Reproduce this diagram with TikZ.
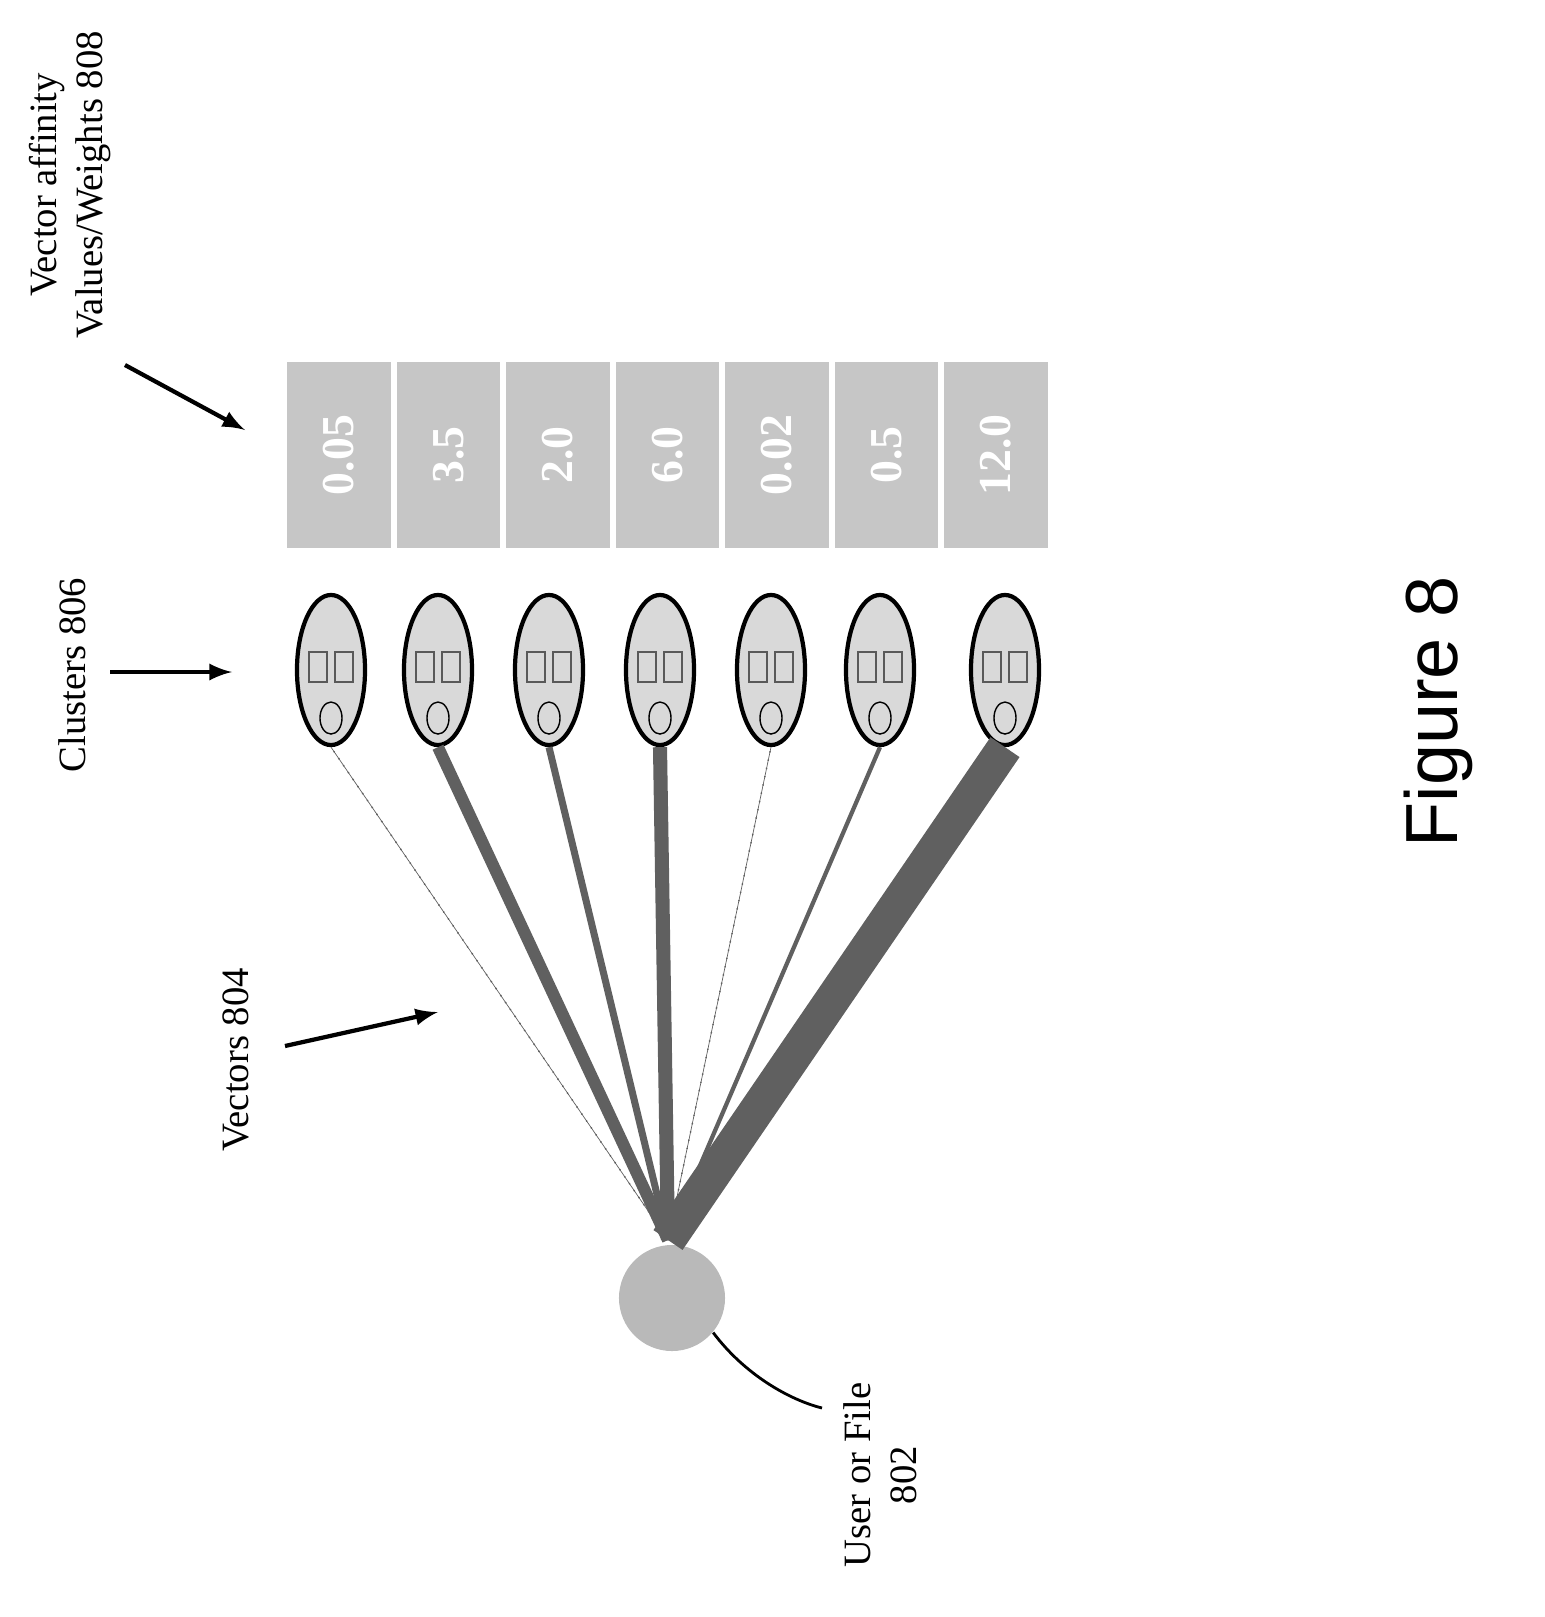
\documentclass[tikz,border=0pt]{standalone}
\usepackage{fontspec}
\setmainfont{Liberation Serif}
\setsansfont{Liberation Sans}
\usetikzlibrary{shapes.geometric}
\begin{document}
\begin{tikzpicture}[x=0.01cm,y=-0.01cm,
  lbl/.style={rotate=90,align=center,font=\fontsize{11}{13}\selectfont},
  valbox/.style={fill=gray!45,minimum width=1.03cm,minimum height=1.86cm,inner sep=0pt},
  cluster/.style={ellipse,draw,line width=1.2pt,fill=gray!30,minimum width=0.68cm,minimum height=1.5cm,inner sep=0pt},
  vec/.style={draw=gray!75!black}]

\useasboundingbox (0,0) rectangle (1544,1617);

% user or file
\node[circle,fill=gray!55,minimum size=1.06cm,inner sep=0pt] (user) at (672,1298) {};
\coordinate (hub) at (668,1240);

% clusters and values
\foreach \i/\x/\v/\w in {1/331/0.05/0.2,2/438/3.5/3.4,3/549/2.0/2,4/660/6.0/4,5/771/0.02/0.2,6/880/0.5/1.2,7/1005/12.0/10}{
  \node[valbox] (val\i) at (339+\i*109.5-109.5,455) {};
  \node[rotate=90,text=white,font=\bfseries\fontsize{13}{15}\selectfont] at (val\i) {\v};
  \node[cluster] (cl\i) at (\x,670) {};
  \draw[gray!70!black,line width=0.3pt] ([xshift=-0.22cm,yshift=-0.12cm]cl\i.center) rectangle ++(0.18cm,0.3cm);
  \draw[gray!70!black,line width=0.3pt] ([xshift=0.04cm,yshift=-0.12cm]cl\i.center) rectangle ++(0.18cm,0.3cm);
  \draw[line width=0.4pt] ([yshift=-0.48cm]cl\i.center) ellipse (0.11cm and 0.16cm);
  \draw[vec,line width=\w pt] (hub) -- (cl\i.south);
}
\draw[vec,dotted,line width=0.4pt] (hub) -- (cl1.south);
\draw[vec,dotted,line width=0.4pt] (hub) -- (cl5.south);

% labels
\node[lbl,anchor=center] (lab808) at (70,185) {Vector affinity\\Values/Weights 808};
\draw[-latex,line width=1.2pt] (125,365) -- (245,430);
\node[lbl] (lab806) at (72,675) {Clusters 806};
\draw[-latex,line width=1.2pt] (110,672) -- (232,672);
\node[lbl] (lab804) at (236,1060) {Vectors 804};
\draw[-latex,line width=1.2pt] (285,1046) -- (438,1012);
\node[lbl] (lab802) at (880,1475) {User or File\\802};
\draw[line width=0.8pt] (user.-40) .. controls (745,1375) and (790,1400) .. (822,1408);

\node[rotate=90,font=\sffamily\fontsize{21}{24}\selectfont] (fig) at (1438,712) {Figure 8};
\end{tikzpicture}
\end{document}
